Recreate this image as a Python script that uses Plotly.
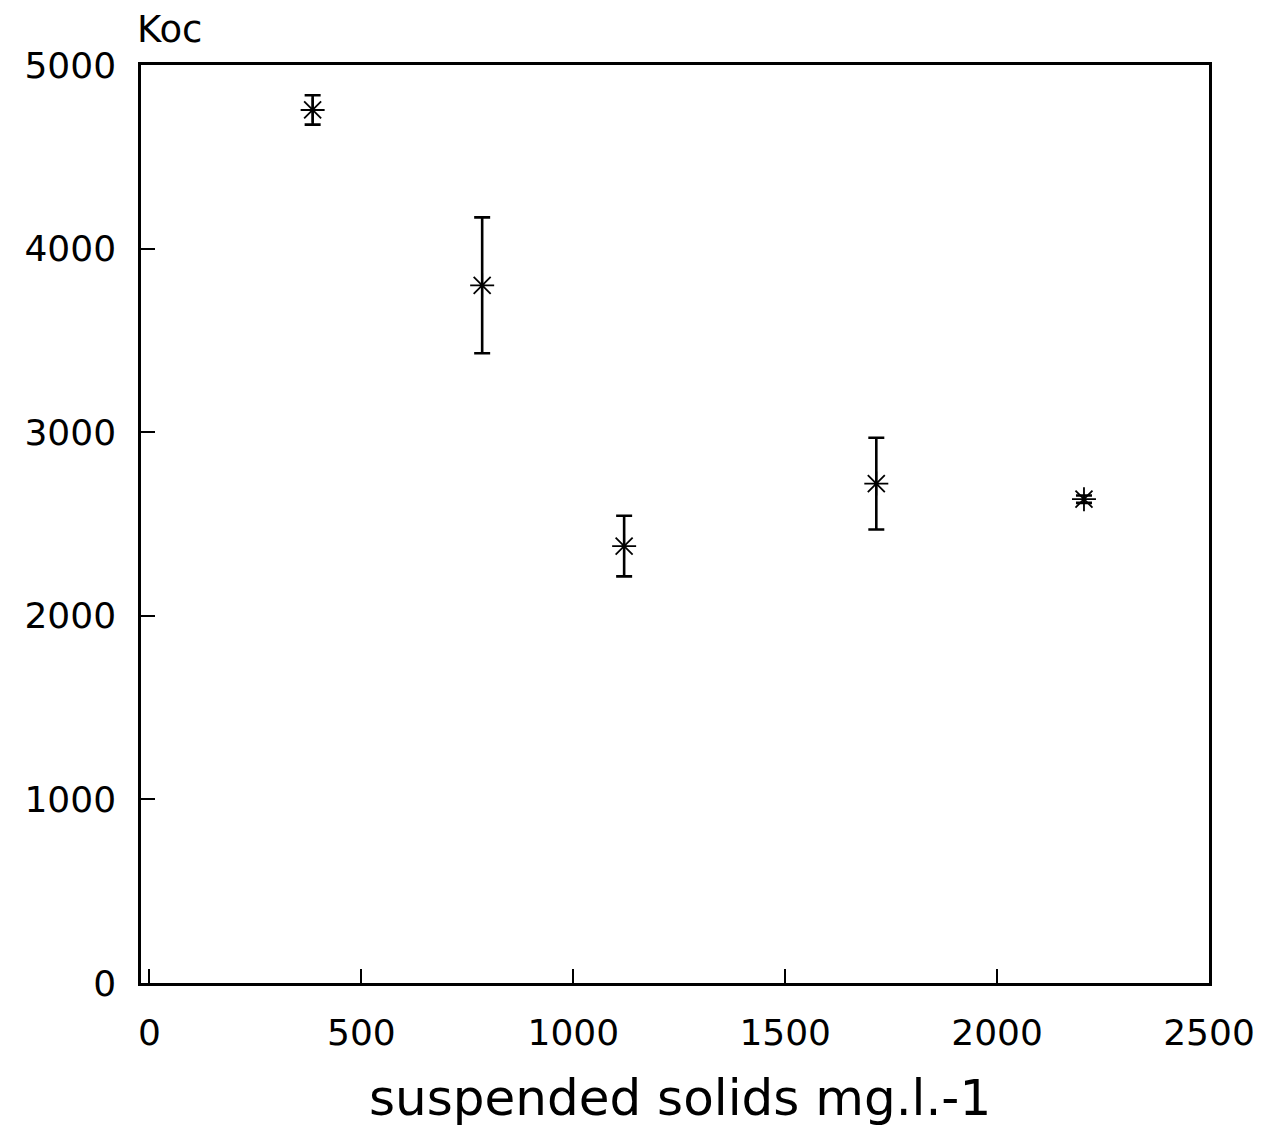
import plotly.graph_objects as go

# Data
suspended_solids = [385, 785, 1120, 1715, 2205]
koc = [4755, 3800, 2380, 2720, 2635]
koc_err = [80, 370, 165, 250, 20]

x_ticks = [0, 500, 1000, 1500, 2000, 2500]
y_ticks = [0, 1000, 2000, 3000, 4000, 5000]

FONT = "DejaVu Sans, Verdana, sans-serif"

fig = go.Figure()
fig.add_trace(go.Scatter(
    x=suspended_solids, y=koc, mode="markers",
    marker=dict(symbol="asterisk-open", size=20, color="black",
                line=dict(color="black", width=1.8)),
    error_y=dict(type="data", array=koc_err, visible=True,
                 color="black", thickness=2.6, width=8),
    showlegend=False,
))

fig.update_layout(
    width=1278, height=1126,
    margin=dict(l=141, r=69, t=65, b=143),
    paper_bgcolor="white", plot_bgcolor="white",
    font=dict(family=FONT, color="black"),
    xaxis=dict(range=[-20, 2500], tickvals=x_ticks, ticks="inside", ticklen=14,
               tickwidth=1.5, tickcolor="black", showgrid=False, zeroline=False,
               showline=True, linecolor="black", linewidth=2.5, mirror=True,
               tickfont=dict(size=36, family=FONT, color="black"),
               ticklabelstandoff=16),
    yaxis=dict(range=[0, 5000], tickvals=y_ticks, ticks="inside", ticklen=14,
               tickwidth=1.5, tickcolor="black", showgrid=False, zeroline=False,
               showline=True, linecolor="black", linewidth=2.5, mirror=True,
               tickfont=dict(size=36, family=FONT, color="black"),
               ticklabelstandoff=15),
    annotations=[
        dict(text="Koc", xref="paper", yref="paper", x=-0.006, y=1.0,
             xanchor="left", yanchor="bottom", yshift=12, showarrow=False,
             font=dict(size=37, family=FONT, color="black")),
        dict(text="suspended solids mg.l.-1", xref="paper", yref="paper",
             x=0.505, y=0, xanchor="center", yanchor="top", yshift=-84,
             showarrow=False,
             font=dict(size=50, family=FONT, color="black")),
    ],
)

fig.write_html("out.html")
